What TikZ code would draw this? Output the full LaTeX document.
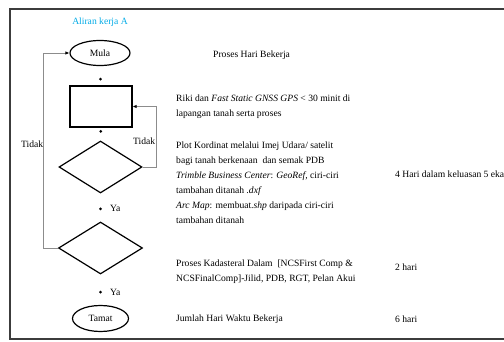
\documentclass[tikz,border=0pt]{standalone}
\usepackage{fontspec}
\setmainfont{Liberation Serif}
\usetikzlibrary{shapes.geometric,arrows.meta}
\definecolor{cyanA}{RGB}{0,170,230}
\definecolor{loopgray}{RGB}{140,140,140}
\definecolor{framegray}{RGB}{60,60,60}
\begin{document}
\begin{tikzpicture}[x=1pt,y=-1pt,
  every node/.style={font=\fontsize{9.6}{15}\selectfont},
  shp/.style={draw=black,line width=1.2pt,inner sep=0pt},
  txt/.style={anchor=base west,inner sep=0pt},
  loopline/.style={draw=loopgray,line width=0.9pt,arrows={-{Latex[length=4pt,width=3.5pt,color=black]}}},
  dotmark/.style={circle,fill=black,inner sep=0pt,minimum size=3pt}]
\useasboundingbox (0,0) rectangle (504,342);
% frame
\draw[framegray,line width=1.8pt] (510,9) -- (10,9) -- (10,339) -- (510,339);
% title
\node[anchor=base,inner sep=0pt,text=cyanA] (title) at (100,25) {Aliran kerja A};
% shapes
\node[shp,ellipse,minimum width=60pt,minimum height=25pt] (mula) at (100,53) {Mula};
\node[shp,rectangle,minimum width=62pt,minimum height=41pt] (box) at (101,106.5) {};
\node[shp,diamond,aspect=1.6,minimum width=83pt,minimum height=52pt] (d1) at (100.5,167) {};
\node[shp,diamond,aspect=1.6,minimum width=84pt,minimum height=52pt] (d2) at (100.5,248) {};
\node[shp,ellipse,minimum width=56pt,minimum height=26pt] (tamat) at (100.5,318.5) {Tamat};
% dot connectors
\path (mula) -- node[pos=0.67,dotmark] (k1) {} (box);
\path (box) -- node[pos=0.29,dotmark] (k2) {} (d1);
\path (d1) -- node[pos=0.55,dotmark] (k3) {} (d2);
\path (d2) -- node[pos=0.58,dotmark] (k4) {} (tamat);
% loops
\draw[loopline] (d1.east) -- ++(14,0) |- (box.east);
\draw[loopline] (d2.west) -- ++(-14,0) |- (mula.west);
% loop labels
\node[txt] (tidakR) at (133,145) {Tidak};
\node[txt] (tidakL) at (21,148) {Tidak};
\node[txt] (ya1) at (110,212) {Ya};
\node[txt] (ya2) at (110,295) {Ya};
% description column
\node[txt] (h1) at (213,58) {Proses Hari Bekerja};
\node[txt] (r1) at (176,102) {Riki dan \textit{Fast Static GNSS GPS} < 30 minit di};
\node[txt] (r2) at (176,117) {lapangan tanah serta proses};
\node[txt] (p1) at (176,149) {Plot Kordinat melalui Imej Udara/ satelit};
\node[txt] (p2) at (176,164) {bagi tanah berkenaan\ \ dan semak PDB};
\node[txt] (p3) at (176,179) {\textit{Trimble Business Center}: \textit{GeoRef,} ciri-ciri};
\node[txt] (p4) at (176,194) {tambahan ditanah \textit{.dxf}};
\node[txt] (p5) at (176,209) {\textit{Arc Map}: membuat\textit{.shp} daripada ciri-ciri};
\node[txt] (p6) at (176,224) {tambahan ditanah};
\node[txt] (k5) at (176,266) {Proses Kadasteral Dalam\ \ [NCSFirst Comp \&};
\node[txt] (k6) at (176,281) {NCSFinalComp]-Jilid, PDB, RGT, Pelan Akui};
\node[txt] (j1) at (176,321) {Jumlah Hari Waktu Bekerja};
% days column
\node[txt] (d4) at (395,178) {4 Hari dalam keluasan 5 eka};
\node[txt] (d2h) at (395,271) {2 hari};
\node[txt] (d6h) at (395,322) {6 hari};
\end{tikzpicture}
\end{document}
